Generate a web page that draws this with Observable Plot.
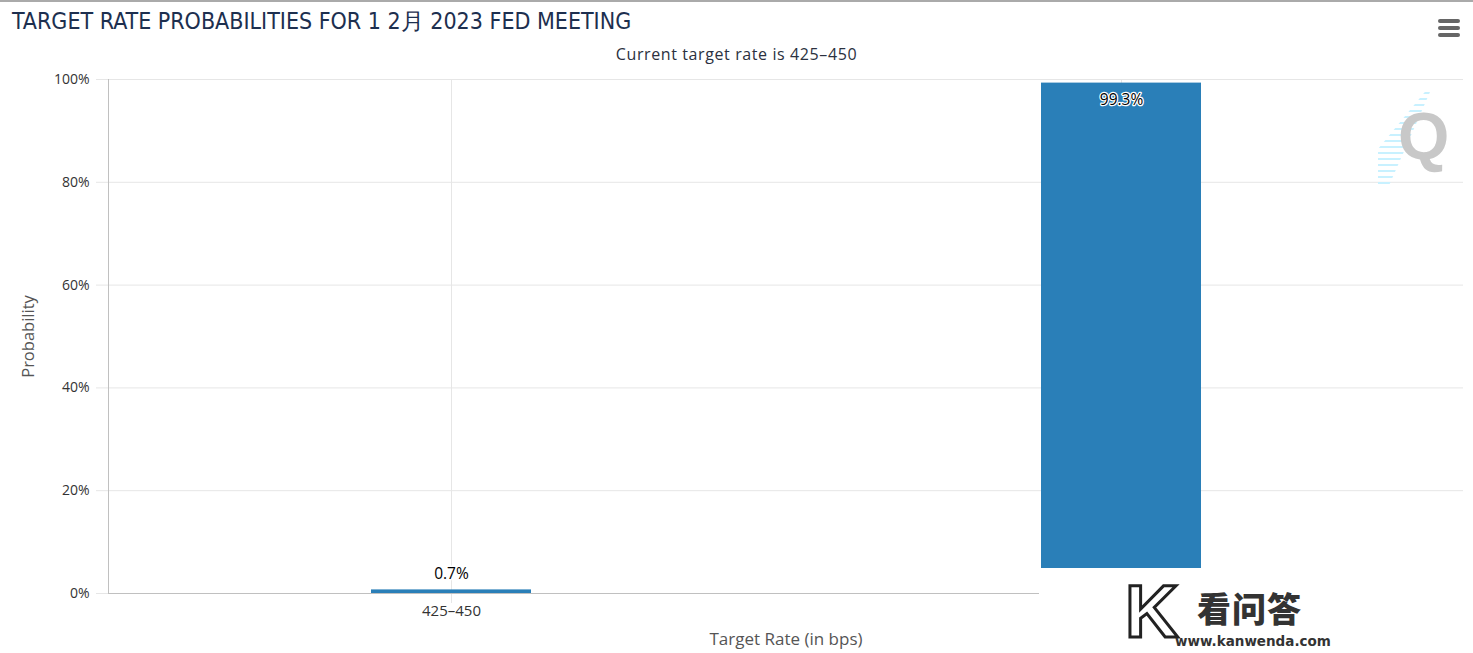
<!DOCTYPE html>
<html><head><meta charset="utf-8">
<script src="https://cdn.jsdelivr.net/npm/d3@7"></script>
<script src="https://cdn.jsdelivr.net/npm/@observablehq/plot@0.6"></script>
<style>
html,body{margin:0;padding:0;background:#fff;}
#wrap{position:relative;width:1473px;height:653px;overflow:hidden;font-family:"Open Sans",sans-serif;border-top:2px solid #aaa;box-sizing:border-box;}
#title{position:absolute;left:12px;top:4px;font-family:"Liberation Sans Narrow","DejaVu Sans Condensed",sans-serif;font-size:23px;color:#1d2f4f;white-space:nowrap;}
#subtitle{position:absolute;left:0;width:1473px;top:41px;text-align:center;font-size:16px;letter-spacing:0.6px;color:#2b3140;}
#chart{position:absolute;left:0;top:66px;}
#chart svg text.xt{letter-spacing:1px;}
#menu{position:absolute;left:1438px;top:17px;width:22px;}
#menu div{height:3.5px;background:#666;border-radius:2px;margin-bottom:3.5px;}
#qlogo{position:absolute;left:1398px;top:96px;font-family:"Liberation Sans",Arial,sans-serif;font-weight:bold;font-size:66px;color:#c8c8c8;}
#qlines{position:absolute;left:1378px;top:90px;width:52px;height:95px;background:repeating-linear-gradient(to bottom,#c8f1ff 0 2px,transparent 2px 6px);clip-path:polygon(90% 0,100% 0,20% 100%,0 100%,0 60%);}
#wm{position:absolute;left:1039px;top:566px;width:434px;height:87px;background:#fff;}
#wmK{position:absolute;left:86px;top:2px;font-family:"Liberation Sans Narrow","Liberation Sans",sans-serif;font-weight:bold;font-size:74px;line-height:84px;color:#fff;-webkit-text-stroke:3px #222;}
#wmT{position:absolute;left:158px;top:20px;font-family:"Noto Sans CJK SC",sans-serif;font-weight:900;font-size:34px;line-height:40px;color:#333;letter-spacing:1px;}
#wmU{position:absolute;left:136px;top:65px;font-family:"DejaVu Sans",sans-serif;font-weight:bold;font-size:13.5px;color:#333;}
</style></head>
<body>
<div id="wrap">
  <div id="title">TARGET RATE PROBABILITIES FOR 1 2月 2023 FED MEETING</div>
  <div id="subtitle">Current target rate is 425–450</div>
  <div id="menu"><div></div><div></div><div></div></div>
  <div id="chart"></div>
  <div id="qlines"></div>
  <div id="qlogo">Q</div>
  <div id="wm"><div id="wmK">K</div><div id="wmT">看问答</div><div id="wmU">www.kanwenda.com</div></div>
</div>
<script>
const categories = ["425-450", "450-475"];
const probabilities = [0.7, 99.3];
const yTicks = [0, 20, 40, 60, 80, 100];
const xTitle = "Target Rate (in bps)";
const yTitle = "Probability";

const data = categories.map((c, i) => ({cat: c, p: probabilities[i]}));
const barColor = "#2a7fb8";

const chart = Plot.plot({
  width: 1473,
  height: 585,
  marginLeft: 108,
  marginRight: 10,
  marginTop: 11,
  marginBottom: 60,
  style: {fontFamily: "'Open Sans', sans-serif", fontSize: "14px", color: "#333", background: "#fff"},
  x: {domain: categories, paddingInner: 0, paddingOuter: 0.01},
  y: {domain: [0, 100]},
  marks: [
    Plot.gridY(yTicks, {stroke: "#e6e6e6", strokeOpacity: 1}),
    Plot.gridX(categories, {stroke: "#e6e6e6", strokeOpacity: 1}),
    Plot.axisY(yTicks, {tickSize: 12, tickPadding: 7, stroke: "#e6e6e6", fill: "#333", tickFormat: d => d + "%", label: null}),
    Plot.axisX(categories.slice(0, 1), {tickSize: 10, tickPadding: 2, stroke: "#e6e6e6", fill: "#333", fontSize: 15, tickFormat: d => d.replace("-", "–"), className: "xt", label: null}),
    Plot.frame({anchor: "left", stroke: "#c0c0c0"}),
    Plot.ruleY([0], {stroke: "#c0c0c0"}),
    Plot.barY(data, {x: "cat", y: "p", fill: barColor, insetLeft: 255, insetRight: 255}),
    Plot.text(data.filter(d => d.p < 50), {x: "cat", y: "p", text: d => d.p + "%", dy: -16, fill: "#000", stroke: "#fff", strokeWidth: 3, fontSize: 15.5}),
    Plot.text(data.filter(d => d.p >= 50), {x: "cat", y: "p", text: d => d.p + "%", dy: 17, fill: "#000", stroke: "#fff", strokeWidth: 2.5, fontSize: 15.5}),
    Plot.text([xTitle], {frameAnchor: "bottom", dy: 51, fill: "#555", fontSize: 17}),
    Plot.text([yTitle], {frameAnchor: "left", dx: -80, rotate: -90, textAnchor: "middle", fill: "#555", fontSize: 16.5})
  ]
});
document.getElementById("chart").appendChild(chart);
</script>
</body></html>
